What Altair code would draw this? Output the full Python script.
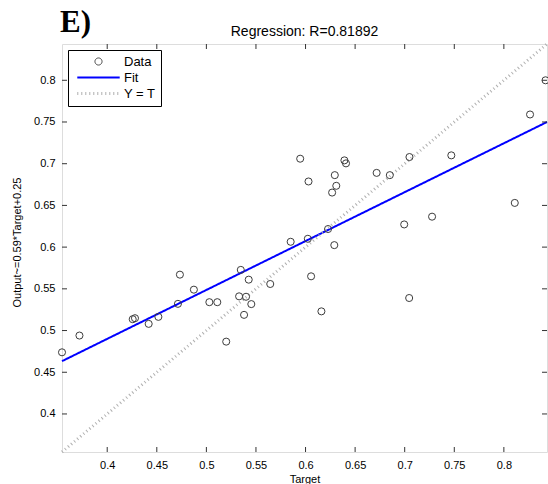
import altair as alt
import pandas as pd

# ---- data ----
target = [0.3544, 0.372, 0.4257, 0.428, 0.4418, 0.4516, 0.4713, 0.4733, 0.4874, 0.503,
          0.511, 0.520, 0.533, 0.5347, 0.538, 0.540, 0.5427, 0.5453, 0.5644, 0.585,
          0.5946, 0.6023, 0.603, 0.6056, 0.616, 0.6227, 0.6268, 0.629, 0.6295, 0.631,
          0.6392, 0.6408, 0.6717, 0.685, 0.6995, 0.7045, 0.7048, 0.7276, 0.747, 0.811,
          0.8264, 0.842]
output = [0.4739, 0.494, 0.5136, 0.5148, 0.508, 0.5164, 0.532, 0.567, 0.549, 0.534,
          0.534, 0.4867, 0.541, 0.5727, 0.5188, 0.5405, 0.561, 0.5317, 0.5558, 0.6064,
          0.706, 0.610, 0.6787, 0.565, 0.523, 0.6217, 0.6654, 0.6024, 0.6863, 0.6735,
          0.704, 0.7004, 0.689, 0.6863, 0.6272, 0.539, 0.708, 0.6365, 0.710, 0.653,
          0.759, 0.800]
axis_range = [0.3544, 0.8435]
fit_x = [0.3544, 0.8435]
fit_y = [0.4633, 0.750]
tick_values = [0.4, 0.45, 0.5, 0.55, 0.6, 0.65, 0.7, 0.75, 0.8]
series_names = ["Data", "Fit", "Y = T"]
title_text = "Regression: R=0.81892"
panel_label = "E)"
x_title = "Target"
y_title = "Output~=0.59*Target+0.25"

W, H = 485, 408
FONT = "Liberation Sans"

pts = pd.DataFrame({"Target": target, "Output": output, "series": "Data"})
lines = pd.DataFrame({
    "Target": fit_x + axis_range,
    "Output": fit_y + axis_range,
    "series": ["Fit", "Fit", "Y = T", "Y = T"],
})
ticks = pd.DataFrame({"Target": tick_values, "Output": tick_values})

xscale = alt.Scale(domain=axis_range, nice=False, zero=False)
yscale = alt.Scale(domain=axis_range, nice=False, zero=False)

x_axis = alt.Axis(values=tick_values, format="~g", tickSize=0, domain=False, grid=False,
                  title=x_title, labelPadding=7, titlePadding=3, labelFontSize=11,
                  titleFontSize=11, titleFontWeight="normal", labelColor="#000",
                  titleColor="#000", labelFont=FONT, titleFont=FONT)
y_axis = alt.Axis(values=tick_values, format="~g", tickSize=0, domain=False, grid=False,
                  title=y_title, labelPadding=7, labelFontSize=11, titleFontSize=11,
                  titleFontWeight="normal", labelColor="#000", titleColor="#000",
                  labelFont=FONT, titleFont=FONT, titleX=-40, titleY=H / 2 - 6,
                  titleAngle=-90, titleBaseline="bottom", titleAlign="center")

X = alt.X("Target:Q", scale=xscale, axis=x_axis)
Y = alt.Y("Output:Q", scale=yscale, axis=y_axis)

legend = alt.Legend(title=None, orient="top-left", offset=6, padding=5,
                    strokeColor="#000", fillColor="white", labelFontSize=13,
                    labelFont=FONT, labelColor="#000", labelOffset=19, rowPadding=2,
                    cornerRadius=0, symbolSize=50, symbolOffset=19)

line_path = "M-6,0H6"
color = alt.Color("series:N", scale=alt.Scale(domain=series_names,
                  range=["#3c3c3c", "#0000ff", "#b0b0b0"]), legend=legend)
shape = alt.Shape("series:N", scale=alt.Scale(domain=series_names,
                  range=["circle", line_path, line_path]), legend=legend)
dash = alt.StrokeDash("series:N", scale=alt.Scale(domain=series_names,
                      range=[[1, 0], [1, 0], [1, 3]]), legend=legend)
swidth = alt.StrokeWidth("series:N", scale=alt.Scale(domain=series_names,
                         range=[1, 3, 0.9]), legend=legend)

line_layer = alt.Chart(lines).mark_line().encode(
    x=X, y=Y, color=color, strokeDash=dash, strokeWidth=swidth, detail="series:N")

point_layer = alt.Chart(pts).mark_point(filled=False, strokeWidth=1, opacity=1, size=50).encode(
    x=X, y=Y, color=color, shape=shape)

tick_color = "#333333"
tb = alt.Chart(ticks).mark_rule(color=tick_color, strokeWidth=1)
bottom_ticks = tb.encode(x=X, y=alt.value(H), y2=alt.value(H - 5))
top_ticks = tb.encode(x=X, y=alt.value(0), y2=alt.value(5))
left_ticks = tb.encode(y=Y, x=alt.value(0), x2=alt.value(5))
right_ticks = tb.encode(y=Y, x=alt.value(W), x2=alt.value(W - 5))

texts = pd.DataFrame({"label": [panel_label], "title": [title_text]})
label = alt.Chart(texts).mark_text(
    font="Liberation Serif", fontSize=31, fontWeight="bold", align="left",
    baseline="alphabetic", color="#000").encode(
    x=alt.value(-2), y=alt.value(-12), text="label:N")
title = alt.Chart(texts).mark_text(
    font=FONT, fontSize=14, align="center", baseline="alphabetic",
    color="#000").encode(x=alt.value(W / 2), y=alt.value(-8), text="title:N")

chart = alt.layer(
    line_layer, point_layer, bottom_ticks, top_ticks, left_ticks, right_ticks, label, title
).properties(
    width=W, height=H,
    autosize=alt.AutoSizeParams(type="none"),
    padding={"left": 62, "top": 44, "right": 1, "bottom": 32},
).configure_view(
    stroke="#808080", strokeWidth=1
).configure(background="white")

chart.save("out.html", embed_options={"renderer": "svg", "actions": False})
